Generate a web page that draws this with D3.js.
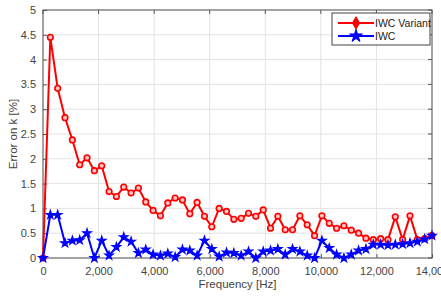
<!DOCTYPE html>
<html>
<head>
<meta charset="utf-8">
<script src="https://cdn.jsdelivr.net/npm/d3@7"></script>
<style>
  body { margin: 0; background: #fff; }
  svg text { font-family: "Liberation Sans", Arial, sans-serif; }
</style>
</head>
<body>
<div id="chart"></div>
<script>
// Frequencies [Hz] of each measurement point
const frequencies = [
    0, 264, 528, 792, 1057, 1321, 1585, 1849, 2113, 2377,
    2642, 2906, 3170, 3434, 3698, 3962, 4226, 4491, 4755, 5019,
    5283, 5547, 5811, 6075, 6340, 6604, 6868, 7132, 7396, 7660,
    7925, 8189, 8453, 8717, 8981, 9245, 9509, 9774, 10038, 10302,
    10566, 10830, 11094, 11358, 11623, 11887, 12151, 12415, 12679, 12943,
    13208, 13472, 13736, 14000
];

// Error on k [%] — IWC Variant
const iwcVariant = [
    0, 4.45, 3.42, 2.83, 2.38, 1.88, 2.02, 1.76, 1.86, 1.34,
    1.24, 1.43, 1.31, 1.41, 1.13, 0.96, 0.85, 1.11, 1.21, 1.17,
    0.89, 1.12, 0.84, 0.63, 1.0, 0.94, 0.78, 0.8, 0.9, 0.84,
    0.97, 0.6, 0.84, 0.57, 0.57, 0.85, 0.67, 0.45, 0.85, 0.7,
    0.6, 0.65, 0.56, 0.5, 0.4, 0.37, 0.39, 0.37, 0.83, 0.37,
    0.85, 0.37, 0.39, 0.45
];

// Error on k [%] — IWC
const iwc = [
    0, 0.87, 0.87, 0.3, 0.35, 0.36, 0.5, 0.0, 0.35, 0.05,
    0.22, 0.42, 0.33, 0.1, 0.17, 0.07, 0.05, 0.09, 0.02, 0.17,
    0.15, 0.05, 0.35, 0.18, 0.03, 0.11, 0.1, 0.05, 0.13, 0.0,
    0.13, 0.15, 0.18, 0.07, 0.18, 0.13, 0.05, 0.0, 0.35, 0.2,
    0.07, 0.0, 0.07, 0.15, 0.18, 0.27, 0.27, 0.26, 0.27, 0.28,
    0.3, 0.33, 0.38, 0.45
];

const xTicks = [0, 2000, 4000, 6000, 8000, 10000, 12000, 14000];
const yTicks = [0, 0.5, 1, 1.5, 2, 2.5, 3, 3.5, 4, 4.5, 5];

const seriesNames = ["IWC Variant", "IWC"];
const seriesColors = ["#ff0000", "#0000ff"];

const width = 441;
const height = 297;
const margin = { top: 10, right: 9, bottom: 39, left: 43 };

const svg = d3.select("#chart")
    .append("svg")
    .attr("width", width)
    .attr("height", height);

const x = d3.scaleLinear()
    .domain([0, 14000])
    .range([margin.left, width - margin.right]);

const y = d3.scaleLinear()
    .domain([0, 5])
    .range([height - margin.bottom, margin.top]);

// grid
const grid = svg.append("g").attr("stroke", "#e3e3e3").attr("stroke-width", 1);
grid.selectAll("line.vx")
    .data(xTicks)
    .enter()
    .append("line")
    .attr("x1", (d) => x(d)).attr("x2", (d) => x(d))
    .attr("y1", y(0)).attr("y2", y(5));
grid.selectAll("line.hy")
    .data(yTicks)
    .enter()
    .append("line")
    .attr("x1", x(0)).attr("x2", x(14000))
    .attr("y1", (d) => y(d)).attr("y2", (d) => y(d));

// axes (MATLAB style, ticks inward)
const fmt = d3.format(",");
const xAxis = d3.axisBottom(x).tickValues(xTicks).tickFormat(fmt).tickSizeInner(-4).tickSizeOuter(0).tickPadding(9);
const yAxis = d3.axisLeft(y).tickValues(yTicks).tickFormat(d3.format("")).tickSizeInner(-4).tickSizeOuter(0).tickPadding(7);

const gx = svg.append("g")
    .attr("transform", `translate(0,${y(0)})`)
    .call(xAxis);
const gy = svg.append("g")
    .attr("transform", `translate(${x(0)},0)`)
    .call(yAxis);

[gx, gy].forEach((g) => {
    g.select(".domain").remove();
    g.selectAll(".tick line").attr("stroke", "#555");
    g.selectAll(".tick text")
        .attr("fill", "#444")
        .style("font-size", "11px");
});

// top / right tick marks
svg.append("g")
    .selectAll("line")
    .data(xTicks)
    .enter()
    .append("line")
    .attr("x1", (d) => x(d)).attr("x2", (d) => x(d))
    .attr("y1", y(5)).attr("y2", y(5) + 4)
    .attr("stroke", "#555");
svg.append("g")
    .selectAll("line")
    .data(yTicks)
    .enter()
    .append("line")
    .attr("x1", x(14000)).attr("x2", x(14000) - 4)
    .attr("y1", (d) => y(d)).attr("y2", (d) => y(d))
    .attr("stroke", "#555");

// box
svg.append("rect")
    .attr("x", x(0))
    .attr("y", y(5))
    .attr("width", x(14000) - x(0))
    .attr("height", y(0) - y(5))
    .attr("fill", "none")
    .attr("stroke", "#555")
    .attr("stroke-width", 1);

// lines
const line = d3.line()
    .x((d, i) => x(frequencies[i]))
    .y((d) => y(d));

const allSeries = [iwcVariant, iwc];
const star = d3.symbol().type(d3.symbolStar).size(22);

allSeries.forEach((vals, s) => {
    svg.append("path")
        .datum(vals)
        .attr("d", line)
        .attr("fill", "none")
        .attr("stroke", seriesColors[s])
        .attr("stroke-width", 2)
        .attr("stroke-linejoin", "round");
});

svg.append("g")
    .selectAll("circle")
    .data(iwcVariant)
    .enter()
    .append("circle")
    .attr("cx", (d, i) => x(frequencies[i]))
    .attr("cy", (d) => y(d))
    .attr("r", 2.8)
    .attr("fill", "#ffc4c4")
    .attr("stroke", seriesColors[0])
    .attr("stroke-width", 1.6);

svg.append("g")
    .selectAll("path")
    .data(iwc)
    .enter()
    .append("path")
    .attr("d", star)
    .attr("transform", (d, i) => `translate(${x(frequencies[i])},${y(d)})`)
    .attr("fill", seriesColors[1])
    .attr("stroke", seriesColors[1])
    .attr("stroke-width", 1.2);

// axis labels
svg.append("text")
    .attr("x", (x(0) + x(14000)) / 2)
    .attr("y", 288)
    .attr("text-anchor", "middle")
    .attr("fill", "#444")
    .style("font-size", "11.5px")
    .text("Frequency [Hz]");

svg.append("text")
    .attr("transform", `translate(17,${(y(0) + y(5)) / 2}) rotate(-90)`)
    .attr("text-anchor", "middle")
    .attr("fill", "#444")
    .style("font-size", "11.5px")
    .text("Error on k [%]");

// legend
const legend = svg.append("g").attr("transform", "translate(332,13)");
legend.append("rect")
    .attr("width", 98)
    .attr("height", 32)
    .attr("fill", "#fff")
    .attr("stroke", "#444")
    .attr("stroke-width", 1);

seriesNames.forEach((name, s) => {
    const ly = 10 + s * 13;
    legend.append("line")
        .attr("x1", 6).attr("x2", 42)
        .attr("y1", ly).attr("y2", ly)
        .attr("stroke", seriesColors[s])
        .attr("stroke-width", 2);
    legend.append("path")
        .attr("d", s === 0 ? d3.symbol().type(d3.symbolDiamond).size(45)() : d3.symbol().type(d3.symbolStar).size(50)())
        .attr("transform", `translate(24,${ly})`)
        .attr("fill", seriesColors[s])
        .attr("stroke", seriesColors[s]);
    legend.append("text")
        .attr("x", 43)
        .attr("y", ly + 4)
        .attr("fill", "#222")
        .style("font-size", "10.5px")
        .text(name);
});
</script>
</body>
</html>
